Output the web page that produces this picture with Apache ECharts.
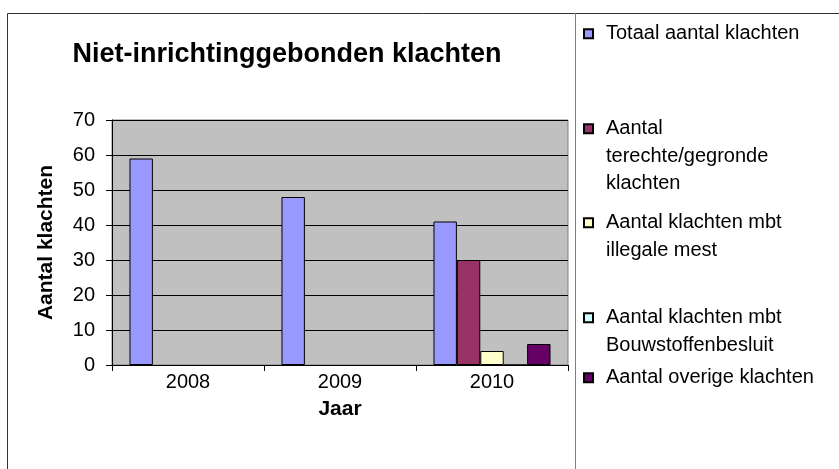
<!DOCTYPE html>
<html>
<head>
<meta charset="utf-8">
<script src="https://cdn.jsdelivr.net/npm/echarts@6/dist/echarts.min.js"></script>
<style>
  html, body { margin: 0; padding: 0; background: #fff; }
  #main { width: 839px; height: 469px; }
</style>
</head>
<body>
<div id="main"></div>
<script>
// jaren op de x-as
const jaren = ['2008', '2009', '2010'];
// waarden per reeks ('-' = geen staaf)
const totaal = [59, 48, 41];
const terecht = ['-', '-', 30];
const mest = ['-', '-', 4];
const bouwstoffen = ['-', '-', 0];
const overige = ['-', '-', 6];
const yTicks = [0, 10, 20, 30, 40, 50, 60, 70];

const reeksNamen = [
  'Totaal aantal klachten',
  'Aantal terechte/gegronde klachten',
  'Aantal klachten mbt illegale mest',
  'Aantal klachten mbt Bouwstoffenbesluit',
  'Aantal overige klachten'
];
// tekst zoals in de legenda afgebroken
const legendaTekst = {
  'Totaal aantal klachten': 'Totaal aantal klachten',
  'Aantal terechte/gegronde klachten': 'Aantal\nterechte/gegronde\nklachten',
  'Aantal klachten mbt illegale mest': 'Aantal klachten mbt\nillegale mest',
  'Aantal klachten mbt Bouwstoffenbesluit': 'Aantal klachten mbt\nBouwstoffenbesluit',
  'Aantal overige klachten': 'Aantal overige klachten'
};
const kleuren = ['#9999FF', '#993366', '#FFFFCC', '#CCFFFF', '#660066'];
const reeksData = [totaal, terecht, mest, bouwstoffen, overige];

const font = 'Arial, "Liberation Sans", sans-serif';
const chart = echarts.init(document.getElementById('main'));

// legenda: elk item apart, vierkantje bij de eerste regel
const regelHoogte = 27.5;
const legendaTop = [20, 115, 209, 304, 364];
const legendaRegels = [1, 3, 2, 2, 1];
const legends = reeksNamen.map(function (naam, i) {
  const n = legendaRegels[i];
  const h = (n - 1) * regelHoogte + 9;
  return {
    data: [naam],
    left: 583,
    top: legendaTop[i],
    padding: 0,
    itemWidth: 9,
    itemHeight: h,
    selectedMode: false,
    icon: n > 1 ? 'path://M0,0h9v9h-9z M0,' + h : 'rect',
    formatter: function (name) { return legendaTekst[name]; },
    textStyle: {
      fontFamily: font,
      fontSize: 20,
      color: '#000',
      lineHeight: regelHoogte,
      padding: [0, 0, 0, 8]
    }
  };
});

const option = {
  backgroundColor: '#fff',
  animation: false,
  color: kleuren,
  title: {
    text: 'Niet-inrichtinggebonden klachten',
    left: 282,
    textAlign: 'center',
    top: 36,
    textStyle: { fontFamily: font, fontSize: 27, fontWeight: 'bold', color: '#000' }
  },
  legend: legends,
  graphic: [
    {
      type: 'rect',
      shape: { x: 7.5, y: 13.5, width: 900, height: 500 },
      style: { fill: 'none', stroke: '#333', lineWidth: 1 },
      z: -1
    },
    {
      type: 'line',
      shape: { x1: 575.5, y1: 13, x2: 575.5, y2: 469 },
      style: { stroke: '#808080', lineWidth: 1 },
      z: -1
    }
  ],
  grid: {
    left: 112,
    right: 271,
    top: 120,
    bottom: 104,
    show: true,
    backgroundColor: '#C0C0C0',
    borderColor: '#808080',
    borderWidth: 1
  },
  xAxis: {
    type: 'category',
    data: jaren,
    name: 'Jaar',
    nameLocation: 'middle',
    nameGap: 34,
    nameTextStyle: { fontFamily: font, fontSize: 21, fontWeight: 'bold', color: '#000' },
    axisLine: { lineStyle: { color: '#000', width: 1 } },
    axisTick: { show: true, length: 6, lineStyle: { color: '#000' } },
    axisLabel: { fontFamily: font, fontSize: 20, color: '#000', margin: 7 },
    splitLine: { show: false }
  },
  yAxis: {
    type: 'value',
    min: yTicks[0],
    max: yTicks[yTicks.length - 1],
    interval: 10,
    name: 'Aantal klachten',
    nameLocation: 'middle',
    nameGap: 55,
    nameRotate: 90,
    nameTextStyle: { fontFamily: font, fontSize: 21, fontWeight: 'bold', color: '#000' },
    axisLine: { show: true, lineStyle: { color: '#000', width: 1 } },
    axisTick: { show: true, length: 6, lineStyle: { color: '#000' } },
    axisLabel: { fontFamily: font, fontSize: 20, color: '#000', margin: 17 },
    splitLine: { show: true, lineStyle: { color: '#000', width: 1 } }
  },
  series: reeksNamen.map(function (naam, i) {
    return {
      name: naam,
      type: 'bar',
      data: reeksData[i],
      barGap: '0%',
      barCategoryGap: '23%',
      itemStyle: { color: kleuren[i], borderColor: '#000', borderWidth: 1 }
    };
  })
};

chart.setOption(option);
</script>
</body>
</html>
